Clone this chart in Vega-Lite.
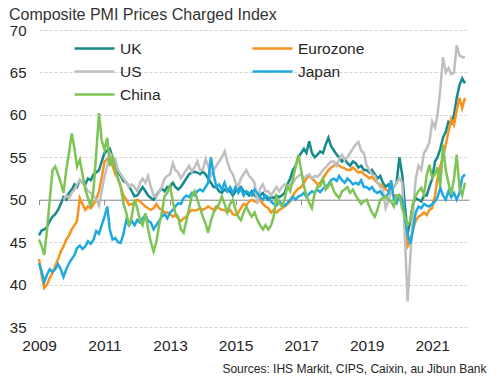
{
"$schema":"https://vega.github.io/schema/vega-lite/v6.json",
"width":430,"height":297,
"autosize":{"type":"none"},
"padding":{"left":39,"top":30,"right":28,"bottom":57},
"config":{"font":"Liberation Sans","view":{"stroke":null}},
"title":{"text":"Composite PMI Prices Charged Index","anchor":"start","frame":"group","dx":-30,"dy":10,"offset":10,"fontSize":16,"fontWeight":"normal","color":"#333333","font":"Liberation Sans"},
"data":{"values":[
{"date":"2009-01-01","UK":45.8,"Eurozone":43.0,"US":null,"Japan":42.5,"China":45.3},
{"date":"2009-02-01","UK":46.4,"Eurozone":41.0,"US":null,"Japan":41.5,"China":44.5},
{"date":"2009-03-01","UK":46.5,"Eurozone":39.6,"US":null,"Japan":40.3,"China":43.5},
{"date":"2009-04-01","UK":46.8,"Eurozone":40.0,"US":null,"Japan":41.2,"China":46.5},
{"date":"2009-05-01","UK":47.5,"Eurozone":40.8,"US":null,"Japan":41.8,"China":50.0},
{"date":"2009-06-01","UK":48.0,"Eurozone":41.4,"US":null,"Japan":41.5,"China":53.5},
{"date":"2009-07-01","UK":48.3,"Eurozone":42.2,"US":null,"Japan":41.8,"China":53.9},
{"date":"2009-08-01","UK":48.8,"Eurozone":43.0,"US":null,"Japan":42.4,"China":53.0},
{"date":"2009-09-01","UK":49.5,"Eurozone":43.9,"US":null,"Japan":41.8,"China":52.0},
{"date":"2009-10-01","UK":50.3,"Eurozone":44.5,"US":50.0,"Japan":40.9,"China":50.8},
{"date":"2009-11-01","UK":50.0,"Eurozone":45.3,"US":50.5,"Japan":41.8,"China":53.5},
{"date":"2009-12-01","UK":50.8,"Eurozone":45.8,"US":50.2,"Japan":42.5,"China":55.5},
{"date":"2010-01-01","UK":51.2,"Eurozone":46.5,"US":50.8,"Japan":43.0,"China":57.8},
{"date":"2010-02-01","UK":51.8,"Eurozone":47.0,"US":51.2,"Japan":43.5,"China":56.0},
{"date":"2010-03-01","UK":51.5,"Eurozone":47.5,"US":51.8,"Japan":44.3,"China":53.9},
{"date":"2010-04-01","UK":52.3,"Eurozone":50.2,"US":52.3,"Japan":44.6,"China":54.7},
{"date":"2010-05-01","UK":52.0,"Eurozone":49.5,"US":52.0,"Japan":44.2,"China":53.0},
{"date":"2010-06-01","UK":51.8,"Eurozone":48.8,"US":51.6,"Japan":44.5,"China":51.2},
{"date":"2010-07-01","UK":52.5,"Eurozone":49.2,"US":51.0,"Japan":45.1,"China":50.2},
{"date":"2010-08-01","UK":52.3,"Eurozone":49.0,"US":50.8,"Japan":44.8,"China":49.2},
{"date":"2010-09-01","UK":53.0,"Eurozone":49.5,"US":50.5,"Japan":45.3,"China":51.2},
{"date":"2010-10-01","UK":53.2,"Eurozone":50.0,"US":50.0,"Japan":46.3,"China":55.5},
{"date":"2010-11-01","UK":53.5,"Eurozone":51.0,"US":49.3,"Japan":46.0,"China":60.2},
{"date":"2010-12-01","UK":54.5,"Eurozone":52.6,"US":51.0,"Japan":47.0,"China":57.0},
{"date":"2011-01-01","UK":55.5,"Eurozone":54.5,"US":52.7,"Japan":48.0,"China":55.9},
{"date":"2011-02-01","UK":55.8,"Eurozone":54.8,"US":54.0,"Japan":49.2,"China":57.3},
{"date":"2011-03-01","UK":56.0,"Eurozone":55.0,"US":55.5,"Japan":46.5,"China":54.0},
{"date":"2011-04-01","UK":55.0,"Eurozone":54.0,"US":55.0,"Japan":45.3,"China":55.0},
{"date":"2011-05-01","UK":54.0,"Eurozone":53.0,"US":54.8,"Japan":45.5,"China":53.5},
{"date":"2011-06-01","UK":53.2,"Eurozone":52.5,"US":53.5,"Japan":45.0,"China":52.5},
{"date":"2011-07-01","UK":52.8,"Eurozone":51.5,"US":53.0,"Japan":44.9,"China":51.5},
{"date":"2011-08-01","UK":52.2,"Eurozone":50.5,"US":52.5,"Japan":46.0,"China":49.5},
{"date":"2011-09-01","UK":52.0,"Eurozone":50.0,"US":52.0,"Japan":47.6,"China":48.5},
{"date":"2011-10-01","UK":51.6,"Eurozone":49.4,"US":51.5,"Japan":47.0,"China":46.9},
{"date":"2011-11-01","UK":51.0,"Eurozone":49.5,"US":51.8,"Japan":47.5,"China":48.0},
{"date":"2011-12-01","UK":50.4,"Eurozone":49.6,"US":51.5,"Japan":47.0,"China":50.0},
{"date":"2012-01-01","UK":50.5,"Eurozone":50.0,"US":51.0,"Japan":47.6,"China":49.0},
{"date":"2012-02-01","UK":51.0,"Eurozone":49.8,"US":52.0,"Japan":47.3,"China":47.6},
{"date":"2012-03-01","UK":51.5,"Eurozone":49.5,"US":52.5,"Japan":47.8,"China":47.0},
{"date":"2012-04-01","UK":51.0,"Eurozone":49.2,"US":52.0,"Japan":48.2,"China":48.4},
{"date":"2012-05-01","UK":50.5,"Eurozone":49.0,"US":52.8,"Japan":47.5,"China":46.5},
{"date":"2012-06-01","UK":50.2,"Eurozone":48.8,"US":51.5,"Japan":47.3,"China":45.0},
{"date":"2012-07-01","UK":50.0,"Eurozone":49.0,"US":50.5,"Japan":46.5,"China":43.9},
{"date":"2012-08-01","UK":50.5,"Eurozone":49.5,"US":50.3,"Japan":47.0,"China":45.0},
{"date":"2012-09-01","UK":51.0,"Eurozone":49.0,"US":51.0,"Japan":47.5,"China":47.0},
{"date":"2012-10-01","UK":51.3,"Eurozone":48.8,"US":51.5,"Japan":48.0,"China":48.5},
{"date":"2012-11-01","UK":51.0,"Eurozone":48.5,"US":52.5,"Japan":48.3,"China":50.4},
{"date":"2012-12-01","UK":51.5,"Eurozone":48.5,"US":52.8,"Japan":47.8,"China":50.8},
{"date":"2013-01-01","UK":51.5,"Eurozone":48.3,"US":53.0,"Japan":48.5,"China":51.6},
{"date":"2013-02-01","UK":52.0,"Eurozone":48.0,"US":54.3,"Japan":48.8,"China":49.8},
{"date":"2013-03-01","UK":51.5,"Eurozone":48.2,"US":53.5,"Japan":49.2,"China":48.4},
{"date":"2013-04-01","UK":51.2,"Eurozone":47.8,"US":53.2,"Japan":49.6,"China":48.0},
{"date":"2013-05-01","UK":51.5,"Eurozone":47.5,"US":52.5,"Japan":49.5,"China":46.5},
{"date":"2013-06-01","UK":52.0,"Eurozone":47.8,"US":53.0,"Japan":50.2,"China":46.1},
{"date":"2013-07-01","UK":52.5,"Eurozone":48.0,"US":53.5,"Japan":50.5,"China":47.5},
{"date":"2013-08-01","UK":53.0,"Eurozone":48.5,"US":54.0,"Japan":50.3,"China":49.0},
{"date":"2013-09-01","UK":53.2,"Eurozone":48.8,"US":53.3,"Japan":50.8,"China":50.5},
{"date":"2013-10-01","UK":53.3,"Eurozone":48.7,"US":53.8,"Japan":50.5,"China":51.0},
{"date":"2013-11-01","UK":53.2,"Eurozone":48.8,"US":54.5,"Japan":51.0,"China":50.0},
{"date":"2013-12-01","UK":53.0,"Eurozone":49.0,"US":53.5,"Japan":51.2,"China":49.0},
{"date":"2014-01-01","UK":53.3,"Eurozone":48.8,"US":53.5,"Japan":51.0,"China":48.0},
{"date":"2014-02-01","UK":53.0,"Eurozone":49.0,"US":54.8,"Japan":51.5,"China":47.2},
{"date":"2014-03-01","UK":52.5,"Eurozone":49.2,"US":54.0,"Japan":52.0,"China":46.1},
{"date":"2014-04-01","UK":52.0,"Eurozone":49.0,"US":52.8,"Japan":55.0,"China":47.5},
{"date":"2014-05-01","UK":51.5,"Eurozone":48.8,"US":53.5,"Japan":53.0,"China":48.5},
{"date":"2014-06-01","UK":51.5,"Eurozone":49.2,"US":54.0,"Japan":51.5,"China":49.0},
{"date":"2014-07-01","UK":51.0,"Eurozone":49.0,"US":54.5,"Japan":51.8,"China":49.5},
{"date":"2014-08-01","UK":50.8,"Eurozone":48.8,"US":55.0,"Japan":51.2,"China":50.4},
{"date":"2014-09-01","UK":51.2,"Eurozone":48.8,"US":55.7,"Japan":52.0,"China":49.5},
{"date":"2014-10-01","UK":51.0,"Eurozone":48.5,"US":54.5,"Japan":51.0,"China":48.5},
{"date":"2014-11-01","UK":51.0,"Eurozone":48.8,"US":53.5,"Japan":51.5,"China":49.5},
{"date":"2014-12-01","UK":50.5,"Eurozone":48.3,"US":53.0,"Japan":50.8,"China":50.0},
{"date":"2015-01-01","UK":51.0,"Eurozone":48.2,"US":52.0,"Japan":51.5,"China":48.8},
{"date":"2015-02-01","UK":51.2,"Eurozone":48.5,"US":51.6,"Japan":50.8,"China":48.0},
{"date":"2015-03-01","UK":51.5,"Eurozone":49.0,"US":52.5,"Japan":51.3,"China":47.6},
{"date":"2015-04-01","UK":51.0,"Eurozone":49.5,"US":53.0,"Japan":50.5,"China":48.5},
{"date":"2015-05-01","UK":50.8,"Eurozone":49.3,"US":53.5,"Japan":51.0,"China":49.2},
{"date":"2015-06-01","UK":50.5,"Eurozone":49.8,"US":52.8,"Japan":50.8,"China":48.5},
{"date":"2015-07-01","UK":51.0,"Eurozone":50.0,"US":52.5,"Japan":50.5,"China":48.0},
{"date":"2015-08-01","UK":50.5,"Eurozone":49.8,"US":52.0,"Japan":51.2,"China":48.5},
{"date":"2015-09-01","UK":50.2,"Eurozone":49.8,"US":49.5,"Japan":50.8,"China":47.6},
{"date":"2015-10-01","UK":50.5,"Eurozone":50.0,"US":51.3,"Japan":50.3,"China":47.0},
{"date":"2015-11-01","UK":50.8,"Eurozone":49.5,"US":51.8,"Japan":50.0,"China":46.5},
{"date":"2015-12-01","UK":50.3,"Eurozone":49.2,"US":51.0,"Japan":50.5,"China":47.0},
{"date":"2016-01-01","UK":50.0,"Eurozone":49.0,"US":51.0,"Japan":50.3,"China":46.5},
{"date":"2016-02-01","UK":50.3,"Eurozone":48.5,"US":50.5,"Japan":49.8,"China":47.0},
{"date":"2016-03-01","UK":50.2,"Eurozone":48.8,"US":51.0,"Japan":49.5,"China":48.0},
{"date":"2016-04-01","UK":50.5,"Eurozone":48.5,"US":51.5,"Japan":49.3,"China":50.4},
{"date":"2016-05-01","UK":50.3,"Eurozone":48.8,"US":51.0,"Japan":49.8,"China":49.6},
{"date":"2016-06-01","UK":50.5,"Eurozone":49.0,"US":51.5,"Japan":49.5,"China":49.2},
{"date":"2016-07-01","UK":50.8,"Eurozone":49.2,"US":51.8,"Japan":49.3,"China":50.0},
{"date":"2016-08-01","UK":51.8,"Eurozone":49.5,"US":51.5,"Japan":49.6,"China":51.6},
{"date":"2016-09-01","UK":52.5,"Eurozone":49.8,"US":51.8,"Japan":50.0,"China":51.0},
{"date":"2016-10-01","UK":53.5,"Eurozone":50.5,"US":52.0,"Japan":50.3,"China":52.5},
{"date":"2016-11-01","UK":54.0,"Eurozone":51.0,"US":52.5,"Japan":50.0,"China":53.9},
{"date":"2016-12-01","UK":55.0,"Eurozone":51.3,"US":52.8,"Japan":50.4,"China":55.3},
{"date":"2017-01-01","UK":55.5,"Eurozone":51.5,"US":53.0,"Japan":50.5,"China":53.5},
{"date":"2017-02-01","UK":56.0,"Eurozone":52.0,"US":52.5,"Japan":50.8,"China":51.6},
{"date":"2017-03-01","UK":55.5,"Eurozone":52.5,"US":52.8,"Japan":50.3,"China":50.5},
{"date":"2017-04-01","UK":56.9,"Eurozone":52.8,"US":53.0,"Japan":50.7,"China":49.6},
{"date":"2017-05-01","UK":55.5,"Eurozone":52.5,"US":52.5,"Japan":51.0,"China":49.0},
{"date":"2017-06-01","UK":55.0,"Eurozone":52.2,"US":52.8,"Japan":50.8,"China":50.8},
{"date":"2017-07-01","UK":55.3,"Eurozone":51.8,"US":52.7,"Japan":51.2,"China":51.5},
{"date":"2017-08-01","UK":55.7,"Eurozone":52.0,"US":53.0,"Japan":50.9,"China":51.6},
{"date":"2017-09-01","UK":55.5,"Eurozone":52.5,"US":53.5,"Japan":51.3,"China":52.5},
{"date":"2017-10-01","UK":56.5,"Eurozone":53.0,"US":53.8,"Japan":51.5,"China":51.2},
{"date":"2017-11-01","UK":57.3,"Eurozone":53.5,"US":54.2,"Japan":51.8,"China":51.6},
{"date":"2017-12-01","UK":56.3,"Eurozone":53.8,"US":54.5,"Japan":52.3,"China":52.0},
{"date":"2018-01-01","UK":55.8,"Eurozone":54.0,"US":54.5,"Japan":52.5,"China":51.0},
{"date":"2018-02-01","UK":55.3,"Eurozone":54.3,"US":54.0,"Japan":52.2,"China":50.5},
{"date":"2018-03-01","UK":55.0,"Eurozone":54.0,"US":54.8,"Japan":52.8,"China":50.2},
{"date":"2018-04-01","UK":54.5,"Eurozone":53.8,"US":55.3,"Japan":52.3,"China":51.0},
{"date":"2018-05-01","UK":54.8,"Eurozone":53.7,"US":54.7,"Japan":52.0,"China":51.2},
{"date":"2018-06-01","UK":54.3,"Eurozone":53.5,"US":55.0,"Japan":52.5,"China":51.5},
{"date":"2018-07-01","UK":54.0,"Eurozone":53.5,"US":55.5,"Japan":52.2,"China":50.8},
{"date":"2018-08-01","UK":54.5,"Eurozone":53.8,"US":56.0,"Japan":51.8,"China":51.2},
{"date":"2018-09-01","UK":54.3,"Eurozone":53.5,"US":56.5,"Japan":52.0,"China":50.5},
{"date":"2018-10-01","UK":53.8,"Eurozone":53.2,"US":56.8,"Japan":51.8,"China":50.0},
{"date":"2018-11-01","UK":54.0,"Eurozone":53.3,"US":55.8,"Japan":52.3,"China":49.5},
{"date":"2018-12-01","UK":53.5,"Eurozone":53.0,"US":55.5,"Japan":51.5,"China":49.8},
{"date":"2019-01-01","UK":53.5,"Eurozone":52.8,"US":54.0,"Japan":51.5,"China":50.0},
{"date":"2019-02-01","UK":53.2,"Eurozone":52.5,"US":53.5,"Japan":51.2,"China":49.2},
{"date":"2019-03-01","UK":53.5,"Eurozone":52.7,"US":53.0,"Japan":51.5,"China":48.5},
{"date":"2019-04-01","UK":53.0,"Eurozone":52.3,"US":52.8,"Japan":51.0,"China":48.0},
{"date":"2019-05-01","UK":52.5,"Eurozone":52.0,"US":52.0,"Japan":50.8,"China":48.8},
{"date":"2019-06-01","UK":52.8,"Eurozone":51.8,"US":51.5,"Japan":51.0,"China":50.0},
{"date":"2019-07-01","UK":52.0,"Eurozone":51.5,"US":51.3,"Japan":50.5,"China":50.2},
{"date":"2019-08-01","UK":51.5,"Eurozone":51.2,"US":49.0,"Japan":50.3,"China":50.4},
{"date":"2019-09-01","UK":51.8,"Eurozone":51.0,"US":49.8,"Japan":50.8,"China":50.0},
{"date":"2019-10-01","UK":51.2,"Eurozone":50.8,"US":51.0,"Japan":52.3,"China":49.8},
{"date":"2019-11-01","UK":51.5,"Eurozone":50.5,"US":51.5,"Japan":50.0,"China":49.2},
{"date":"2019-12-01","UK":52.0,"Eurozone":50.5,"US":52.0,"Japan":49.6,"China":50.5},
{"date":"2020-01-01","UK":55.0,"Eurozone":50.5,"US":52.5,"Japan":50.5,"China":50.5},
{"date":"2020-02-01","UK":53.0,"Eurozone":50.3,"US":52.0,"Japan":50.0,"China":49.0},
{"date":"2020-03-01","UK":49.5,"Eurozone":48.0,"US":46.0,"Japan":48.2,"China":48.0},
{"date":"2020-04-01","UK":46.0,"Eurozone":44.5,"US":38.0,"Japan":46.0,"China":47.0},
{"date":"2020-05-01","UK":47.5,"Eurozone":45.0,"US":43.0,"Japan":44.8,"China":47.5},
{"date":"2020-06-01","UK":49.5,"Eurozone":46.5,"US":48.5,"Japan":46.5,"China":49.5},
{"date":"2020-07-01","UK":50.2,"Eurozone":47.5,"US":52.5,"Japan":48.5,"China":50.5},
{"date":"2020-08-01","UK":50.0,"Eurozone":48.0,"US":54.0,"Japan":49.2,"China":51.0},
{"date":"2020-09-01","UK":49.8,"Eurozone":48.2,"US":53.5,"Japan":49.0,"China":51.4},
{"date":"2020-10-01","UK":50.5,"Eurozone":48.5,"US":55.5,"Japan":49.5,"China":50.6},
{"date":"2020-11-01","UK":50.5,"Eurozone":48.2,"US":56.0,"Japan":49.3,"China":52.9},
{"date":"2020-12-01","UK":51.5,"Eurozone":48.8,"US":56.8,"Japan":49.2,"China":54.1},
{"date":"2021-01-01","UK":52.5,"Eurozone":49.0,"US":59.2,"Japan":49.5,"China":52.6},
{"date":"2021-02-01","UK":54.5,"Eurozone":50.5,"US":58.5,"Japan":49.8,"China":53.0},
{"date":"2021-03-01","UK":55.0,"Eurozone":52.5,"US":60.0,"Japan":50.3,"China":53.8},
{"date":"2021-04-01","UK":56.0,"Eurozone":54.0,"US":63.0,"Japan":51.4,"China":51.5},
{"date":"2021-05-01","UK":57.3,"Eurozone":55.0,"US":66.8,"Japan":50.5,"China":56.5},
{"date":"2021-06-01","UK":58.0,"Eurozone":56.5,"US":65.0,"Japan":50.0,"China":53.5},
{"date":"2021-07-01","UK":59.2,"Eurozone":58.0,"US":65.5,"Japan":51.0,"China":52.0},
{"date":"2021-08-01","UK":59.0,"Eurozone":59.5,"US":64.8,"Japan":50.3,"China":50.6},
{"date":"2021-09-01","UK":60.0,"Eurozone":58.8,"US":65.0,"Japan":50.8,"China":52.5},
{"date":"2021-10-01","UK":62.0,"Eurozone":60.5,"US":68.2,"Japan":50.0,"China":55.3},
{"date":"2021-11-01","UK":63.5,"Eurozone":62.0,"US":67.0,"Japan":50.8,"China":51.4},
{"date":"2021-12-01","UK":64.3,"Eurozone":60.8,"US":66.8,"Japan":52.6,"China":50.5},
{"date":"2022-01-01","UK":63.7,"Eurozone":62.0,"US":66.8,"Japan":53.0,"China":52.0}
]},
"transform":[{"fold":["UK","Eurozone","US","Japan","China"],"as":["series","value"]},{"filter":"datum.value != null"}],
"encoding":{
"x":{"field":"date","type":"temporal","scale":{"domain":["2009-01-01","2022-02-15"]},
"axis":{"orient":"bottom","offset":-127.3,"domain":true,"domainColor":"#8c8c8c","domainWidth":1,"ticks":true,"tickColor":"#8c8c8c","tickSize":5,"grid":false,
"values":[{"year":2009,"month":1,"date":1,"utc":true},{"year":2011,"month":1,"date":1,"utc":true},{"year":2013,"month":1,"date":1,"utc":true},{"year":2015,"month":1,"date":1,"utc":true},{"year":2017,"month":1,"date":1,"utc":true},{"year":2019,"month":1,"date":1,"utc":true},{"year":2021,"month":1,"date":1,"utc":true}],
"labelExpr":"utcFormat(datum.value,'%Y')","labelPadding":134,"labelFontSize":15.5,"labelColor":"#262626","labelFont":"Liberation Sans","labelFlush":false,"labelOverlap":false,
"title":"Sources: IHS Markit, CIPS, Caixin, au Jibun Bank","titleFontSize":12,"titleFontWeight":"normal","titleColor":"#262626","titleFont":"Liberation Sans","titleAlign":"right","titleAnchor":null,"titleX":447,"titleY":173,"titleBaseline":"alphabetic"}},
"y":{"field":"value","type":"quantitative","scale":{"domain":[35,70],"nice":false,"zero":false},
"axis":{"values":[35,40,45,50,55,60,65,70],"domain":false,"ticks":false,"grid":true,"gridColor":"#d4d4d4","gridDash":[3,2],"gridWidth":1,"labelPadding":13,"labelFontSize":15,"labelColor":"#262626","labelFont":"Liberation Sans","title":null}},
"color":{"field":"series","type":"nominal","scale":{"domain":["UK","Eurozone","US","Japan","China"],"range":["#16898A","#F7931E","#BFBFBF","#1FA9E1","#7DC455"]},
"legend":{"orient":"none","legendX":34,"legendY":7,"columns":2,"direction":"horizontal","title":null,"symbolType":"stroke","symbolSize":1600,"symbolStrokeWidth":2.5,"clipHeight":23,"labelFontSize":15.5,"labelColor":"#262626","labelFont":"Liberation Sans","labelOffset":4,"columnPadding":90,"rowPadding":0,"labelLimit":200}}
},
"layer":[
{"transform":[{"filter":"datum.series == 'UK'"}],"mark":{"type":"line","strokeWidth":2.5}},
{"transform":[{"filter":"datum.series == 'Eurozone'"}],"mark":{"type":"line","strokeWidth":2.5}},
{"transform":[{"filter":"datum.series == 'US'"}],"mark":{"type":"line","strokeWidth":2.5}},
{"transform":[{"filter":"datum.series == 'Japan'"}],"mark":{"type":"line","strokeWidth":2.5}},
{"transform":[{"filter":"datum.series == 'China'"}],"mark":{"type":"line","strokeWidth":2.5}}
]
}
